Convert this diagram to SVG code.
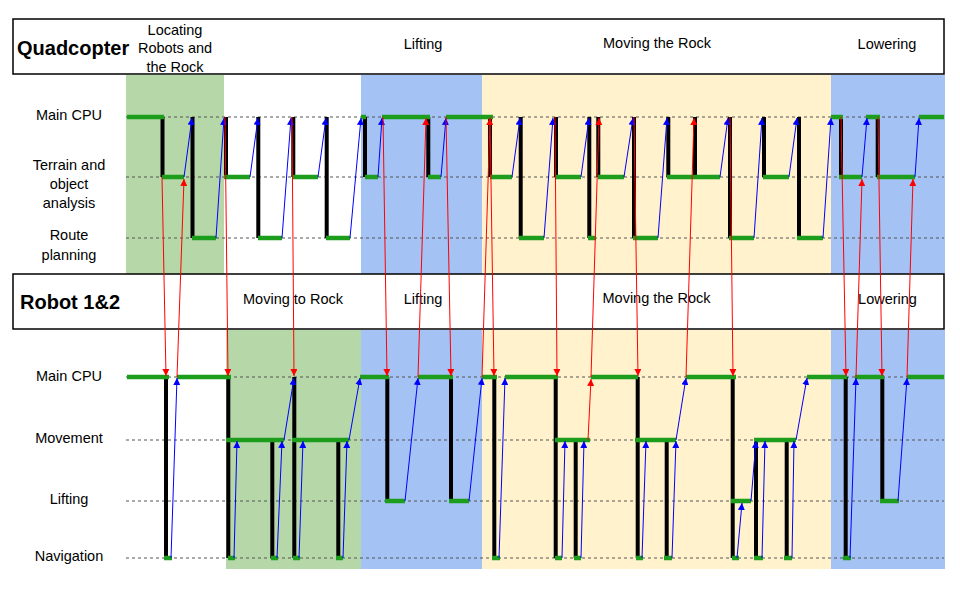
<svg xmlns="http://www.w3.org/2000/svg" width="960" height="600" viewBox="0 0 960 600">
<style>
text{font-family:"Liberation Sans",Arial,sans-serif;font-size:14.5px;fill:#000}
.c{text-anchor:middle}
.h{font-weight:bold;font-size:20px}
.box{fill:#fff;stroke:#000;stroke-width:1.5}
.dash{stroke:#555;stroke-width:1;stroke-dasharray:3 3}
.g{stroke:#1c9e1c;stroke-width:4.5;stroke-linecap:butt}
.k{stroke:#000;stroke-width:4}
.b{stroke:#0000ff;stroke-width:1;marker-end:url(#ab)}
.r{stroke:#ff0000;stroke-width:1;marker-end:url(#ar)}
</style>
<defs>
<marker id="ab" viewBox="0 0 10 10" refX="10" refY="5" markerWidth="7" markerHeight="7" markerUnits="userSpaceOnUse" orient="auto"><path d="M0,0L10,5L0,10z" fill="#0000ff"/></marker>
<marker id="ar" viewBox="0 0 10 10" refX="10" refY="5" markerWidth="7" markerHeight="7" markerUnits="userSpaceOnUse" orient="auto"><path d="M0,0L10,5L0,10z" fill="#ff0000"/></marker>
</defs>
<rect width="960" height="600" fill="#fff"/>
<g id="phases">
<rect x="126" y="75" width="98" height="199" fill="#b6d7a8"/>
<rect x="361" y="75" width="121" height="199" fill="#a4c2f4"/>
<rect x="482" y="75" width="349" height="199" fill="#fff2cc"/>
<rect x="831" y="75" width="114" height="199" fill="#a4c2f4"/>
<rect x="226" y="330" width="135" height="239" fill="#b6d7a8"/>
<rect x="361" y="330" width="121" height="239" fill="#a4c2f4"/>
<rect x="482" y="330" width="349" height="239" fill="#fff2cc"/>
<rect x="831" y="330" width="114" height="239" fill="#a4c2f4"/>
</g>
<g id="quadcopter-header">
<rect class="box" x="13" y="19" width="931" height="55"/>
<text class="h" x="17" y="54.5">Quadcopter</text>
<text class="c" x="175" y="34.5">Locating</text>
<text class="c" x="175" y="53">Robots and</text>
<text class="c" x="175" y="71.5">the Rock</text>
<text class="c" x="423" y="49">Lifting</text>
<text class="c" x="657" y="48">Moving the Rock</text>
<text class="c" x="887" y="49">Lowering</text>
</g>
<g id="robot-header">
<rect class="box" x="13" y="274" width="931" height="55"/>
<text class="h" x="20" y="309">Robot 1&amp;2</text>
<text class="c" x="293" y="304">Moving to Rock</text>
<text class="c" x="423" y="303.5">Lifting</text>
<text class="c" x="656.5" y="302.5">Moving the Rock</text>
<text class="c" x="887.5" y="304">Lowering</text>
</g>
<g id="lane-labels">
<text class="c" x="69" y="119.5">Main CPU</text>
<text class="c" x="69" y="169.5">Terrain and</text>
<text class="c" x="69" y="188.5">object</text>
<text class="c" x="69" y="207.5">analysis</text>
<text class="c" x="69" y="240">Route</text>
<text class="c" x="69" y="259.5">planning</text>
<text class="c" x="69" y="381">Main CPU</text>
<text class="c" x="69" y="443">Movement</text>
<text class="c" x="69" y="504">Lifting</text>
<text class="c" x="69" y="561">Navigation</text>
</g>
<g id="gridlines">
<line class="dash" x1="126" y1="117" x2="944" y2="117"/>
<line class="dash" x1="126" y1="177" x2="944" y2="177"/>
<line class="dash" x1="126" y1="238" x2="944" y2="238"/>
<line class="dash" x1="126" y1="377" x2="944" y2="377"/>
<line class="dash" x1="126" y1="440" x2="944" y2="440"/>
<line class="dash" x1="126" y1="501" x2="944" y2="501"/>
<line class="dash" x1="126" y1="558" x2="944" y2="558"/>
</g>
<g id="quadcopter-tasks">
<path class="k" d="M162.5 117V177M226 117V177M293.3 117V177M365 117V177M428.3 117V177M490 117V177M556 117V177M598.3 117V177M668.3 117V177M695 117V177M764 117V177M841 117V177M877.7 117V177M192.5 117V238M258.3 117V238M326.7 117V238M520.7 117V238M589.3 117V238M634 117V238M730 117V238M799 117V238"/>
<path class="g" d="M127 117H164M361 117H366M382 117H430M446 117H493M831 117H843M866 117H880M919 117H944"/>
<path class="g" d="M162 177H184M224 177H250M293 177H318M365 177H378M428 177H441M490 177H512M555 177H581M598 177H624M667 177H720M763 177H789M839 177H862M877 177H915"/>
<path class="g" d="M192 238H216M258 238H282M326 238H350M519 238H544M588 238H596M633 238H658M729 238H754M797 238H823"/>
</g>
<g id="robot-tasks">
<path class="k" d="M166 377V558M228.3 377V558M294.3 377V558M494.3 377V558M555.7 377V558M637.7 377V558M732.7 377V558M845.7 377V558M272.3 440V558M338.3 440V558M575.7 440V558M666.7 440V558M756 440V558M786.7 440V558M387.3 377V501M451 377V501M882.3 377V501"/>
<path class="g" d="M127 377H169M177 377H231M360 377H389M418 377H453M482 377H497M505 377H558M591 377H638M686 377H736M807 377H847M855 377H884M907 377H944"/>
<path class="g" d="M226 440H284M292 440H349M555 440H590M635 440H676M754 440H796"/>
<path class="g" d="M385 501H405M449 501H469M731 501H751M880 501H899"/>
<path class="g" d="M164 558H172M228 558H235M271 558H278M293 558H300M336 558H343M492 558H500M555 558H562M574 558H581M636 558H643M664 558H672M732 558H739M754 558H763M784 558H792M843 558H851"/>
</g>
<g id="connectors">
<line class="b" x1="184" y1="177" x2="192" y2="118"/>
<line class="b" x1="216" y1="238" x2="224" y2="118"/>
<line class="b" x1="250" y1="177" x2="258" y2="118"/>
<line class="b" x1="282" y1="238" x2="291" y2="118"/>
<line class="b" x1="318" y1="177" x2="326" y2="118"/>
<line class="b" x1="350" y1="238" x2="361" y2="118"/>
<line class="b" x1="378" y1="177" x2="382" y2="118"/>
<line class="b" x1="441" y1="177" x2="446" y2="118"/>
<line class="b" x1="512" y1="177" x2="520" y2="118"/>
<line class="b" x1="544" y1="238" x2="553" y2="118"/>
<line class="b" x1="581" y1="177" x2="589" y2="118"/>
<line class="b" x1="624" y1="177" x2="633" y2="118"/>
<line class="b" x1="658" y1="238" x2="667" y2="118"/>
<line class="b" x1="720" y1="177" x2="728" y2="118"/>
<line class="b" x1="754" y1="238" x2="762" y2="118"/>
<line class="b" x1="789" y1="177" x2="797" y2="118"/>
<line class="b" x1="823" y1="238" x2="831" y2="118"/>
<line class="b" x1="862" y1="177" x2="867" y2="118"/>
<line class="b" x1="915" y1="177" x2="919" y2="118"/>
<line class="b" x1="171" y1="558" x2="177" y2="378"/>
<line class="b" x1="234" y1="558" x2="237" y2="441"/>
<line class="b" x1="277" y1="558" x2="282" y2="441"/>
<line class="b" x1="284" y1="440" x2="294" y2="378"/>
<line class="b" x1="299" y1="558" x2="303" y2="441"/>
<line class="b" x1="343" y1="558" x2="347" y2="441"/>
<line class="b" x1="349" y1="440" x2="360" y2="378"/>
<line class="b" x1="405" y1="501" x2="418" y2="378"/>
<line class="b" x1="469" y1="501" x2="482" y2="378"/>
<line class="b" x1="499" y1="558" x2="505" y2="378"/>
<line class="b" x1="562" y1="558" x2="565" y2="441"/>
<line class="b" x1="581" y1="558" x2="584" y2="441"/>
<line class="b" x1="642" y1="558" x2="646" y2="441"/>
<line class="b" x1="672" y1="558" x2="676" y2="441"/>
<line class="b" x1="676" y1="440" x2="686" y2="378"/>
<line class="b" x1="737" y1="558" x2="742" y2="503"/>
<line class="b" x1="751" y1="501" x2="756" y2="441"/>
<line class="b" x1="762" y1="558" x2="765" y2="441"/>
<line class="b" x1="792" y1="558" x2="794" y2="441"/>
<line class="b" x1="796" y1="440" x2="807" y2="378"/>
<line class="b" x1="850" y1="558" x2="856" y2="378"/>
<line class="b" x1="898" y1="501" x2="907" y2="378"/>
<line class="r" x1="162" y1="177" x2="166" y2="376"/>
<line class="r" x1="177" y1="377" x2="184" y2="179"/>
<line class="r" x1="225" y1="117" x2="228" y2="376"/>
<line class="r" x1="292" y1="117" x2="294" y2="376"/>
<line class="r" x1="383" y1="117" x2="387" y2="376"/>
<line class="r" x1="418" y1="377" x2="426" y2="118"/>
<line class="r" x1="446" y1="117" x2="451" y2="376"/>
<line class="r" x1="482" y1="377" x2="490" y2="118"/>
<line class="r" x1="490" y1="117" x2="494" y2="376"/>
<line class="r" x1="555" y1="117" x2="557" y2="376"/>
<line class="r" x1="588" y1="440" x2="591" y2="379"/>
<line class="r" x1="591" y1="377" x2="599" y2="118"/>
<line class="r" x1="634" y1="117" x2="638" y2="376"/>
<line class="r" x1="686" y1="377" x2="694" y2="118"/>
<line class="r" x1="730" y1="117" x2="733" y2="376"/>
<line class="r" x1="841" y1="117" x2="846" y2="376"/>
<line class="r" x1="856" y1="377" x2="862" y2="179"/>
<line class="r" x1="878" y1="117" x2="882" y2="376"/>
<line class="r" x1="907" y1="377" x2="913" y2="179"/>
</g>
</svg>
